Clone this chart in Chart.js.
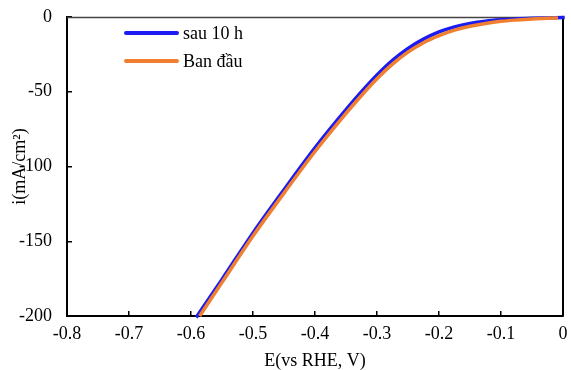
<!DOCTYPE html>
<html>
<head>
<meta charset="utf-8">
<script src="https://cdn.jsdelivr.net/npm/chart.js@4/dist/chart.umd.min.js"></script>
<style>
  html, body { margin: 0; padding: 0; background: #ffffff; }
  #wrap { width: 571px; height: 370px; position: relative; }
</style>
</head>
<body>
<div id="wrap"><canvas id="c" width="571" height="370"></canvas></div>
<script>
// ---- data ----
const seriesNames = ['sau 10 h', 'Ban đầu'];
const after10hE = [-0.59, -0.55, -0.50, -0.45, -0.40, -0.35, -0.325, -0.30, -0.275, -0.25, -0.225, -0.20, -0.175, -0.15, -0.125, -0.10, -0.075, -0.05, -0.025, 0.0];
const after10hI = [-200, -175.5, -144.4, -115.5, -87.5, -62, -50, -38.8, -29, -21, -14.8, -10, -6.6, -4.3, -2.8, -1.9, -1.3, -0.9, -0.6, -0.3];
const initialE  = [-0.586, -0.55, -0.50, -0.45, -0.40, -0.35, -0.325, -0.30, -0.275, -0.25, -0.225, -0.20, -0.175, -0.15, -0.125, -0.10, -0.075, -0.05, -0.025, -0.008];
const initialI  = [-200, -177.5, -146.5, -117.8, -90, -64.5, -52.5, -41.3, -31.5, -23.5, -17.2, -12.5, -8.8, -6.2, -4.3, -2.9, -2.0, -1.3, -0.9, -0.6];
const xTicks = [-0.8, -0.7, -0.6, -0.5, -0.4, -0.3, -0.2, -0.1, 0];
const yTicks = [-200, -150, -100, -50, 0];
const xTickLabels = ['-0.8', '-0.7', '-0.6', '-0.5', '-0.4', '-0.3', '-0.2', '-0.1', '0'];
const yTickLabels = ['-200', '-150', '-100', '-50', '0'];
const xTitle = 'E(vs RHE, V)';
const yTitle = 'i(mA/cm\u00B2)';
const colors = ['#1c1cf2', '#f07f30'];

const FONT = 'Liberation Serif, "Times New Roman", serif';
const pts = (xs, ys) => xs.map((x, i) => ({ x: x, y: ys[i] }));

const frame = {
  id: 'frame',
  beforeDatasetsDraw(chart) {
    const a = chart.chartArea, ctx = chart.ctx;
    ctx.save();
    ctx.strokeStyle = '#444444';
    ctx.lineWidth = 1.5;
    ctx.beginPath(); ctx.moveTo(a.left, a.top + 0.5); ctx.lineTo(a.right, a.top + 0.5); ctx.stroke();
    ctx.strokeStyle = '#000000';
    ctx.lineWidth = 2;
    ctx.beginPath(); ctx.moveTo(a.right, a.top); ctx.lineTo(a.right, a.bottom); ctx.stroke();
    ctx.restore();
  }
};

const legendIn = {
  id: 'legendIn',
  afterDatasetsDraw(chart) {
    const ctx = chart.ctx;
    ctx.save();
    ctx.font = '18px ' + FONT;
    ctx.textBaseline = 'middle';
    ctx.fillStyle = '#000';
    chart.data.datasets.forEach((ds, i) => {
      const y = 33 + i * 28;
      ctx.strokeStyle = ds.borderColor;
      ctx.lineWidth = 4;
      ctx.lineCap = 'round';
      ctx.beginPath(); ctx.moveTo(126, y); ctx.lineTo(177, y); ctx.stroke();
      ctx.fillText(ds.label, 183, y + 1);
    });
    ctx.restore();
  }
};

new Chart(document.getElementById('c'), {
  type: 'scatter',
  data: {
    datasets: [
      { label: seriesNames[0], data: pts(after10hE, after10hI), showLine: true,
        borderColor: colors[0], backgroundColor: colors[0], borderWidth: 3.5,
        pointRadius: 0, cubicInterpolationMode: 'monotone', borderCapStyle: 'square', order: 1, clip: false },
      { label: seriesNames[1], data: pts(initialE, initialI), showLine: true,
        borderColor: colors[1], backgroundColor: colors[1], borderWidth: 3.5,
        pointRadius: 0, cubicInterpolationMode: 'monotone', borderCapStyle: 'butt', order: 0, clip: false }
    ]
  },
  options: {
    responsive: false,
    animation: false,
    events: [],
    layout: { padding: { left: 0, right: 8, top: 17, bottom: 0 } },
    plugins: { legend: { display: false }, tooltip: { enabled: false } },
    scales: {
      x: {
        type: 'linear', min: -0.8, max: 0,
        afterBuildTicks: s => { s.ticks = xTicks.map(v => ({ value: v })); },
        afterFit: s => { s.height = 54; s.paddingLeft = 0; s.paddingRight = 0; },
        ticks: {
          color: '#000', padding: 12, font: { family: FONT, size: 18 },
          callback: (v) => xTickLabels[xTicks.findIndex(t => Math.abs(t - v) < 1e-9)]
        },
        grid: { drawOnChartArea: false, drawTicks: true, tickLength: -5, color: '#000', lineWidth: 1.5 },
        border: { display: true, color: '#000', width: 2 },
        title: { display: true, text: xTitle, color: '#000', font: { family: FONT, size: 18 }, padding: { top: 0, bottom: -2 } }
      },
      y: {
        type: 'linear', min: -200, max: 0,
        afterBuildTicks: s => { s.ticks = yTicks.map(v => ({ value: v })); },
        afterFit: s => { s.width = 67; s.paddingTop = 0; s.paddingBottom = 0; },
        ticks: {
          color: '#000', padding: 20, font: { family: FONT, size: 18 },
          callback: (v) => yTickLabels[yTicks.indexOf(v)]
        },
        grid: { drawOnChartArea: false, drawTicks: true, tickLength: -5, color: '#000', lineWidth: 1.5 },
        border: { display: true, color: '#000', width: 2 },
        title: { display: true, text: yTitle, color: '#000', font: { family: FONT, size: 18 }, padding: { top: 9, bottom: 0 } }
      }
    }
  },
  plugins: [frame, legendIn]
});
</script>
</body>
</html>
